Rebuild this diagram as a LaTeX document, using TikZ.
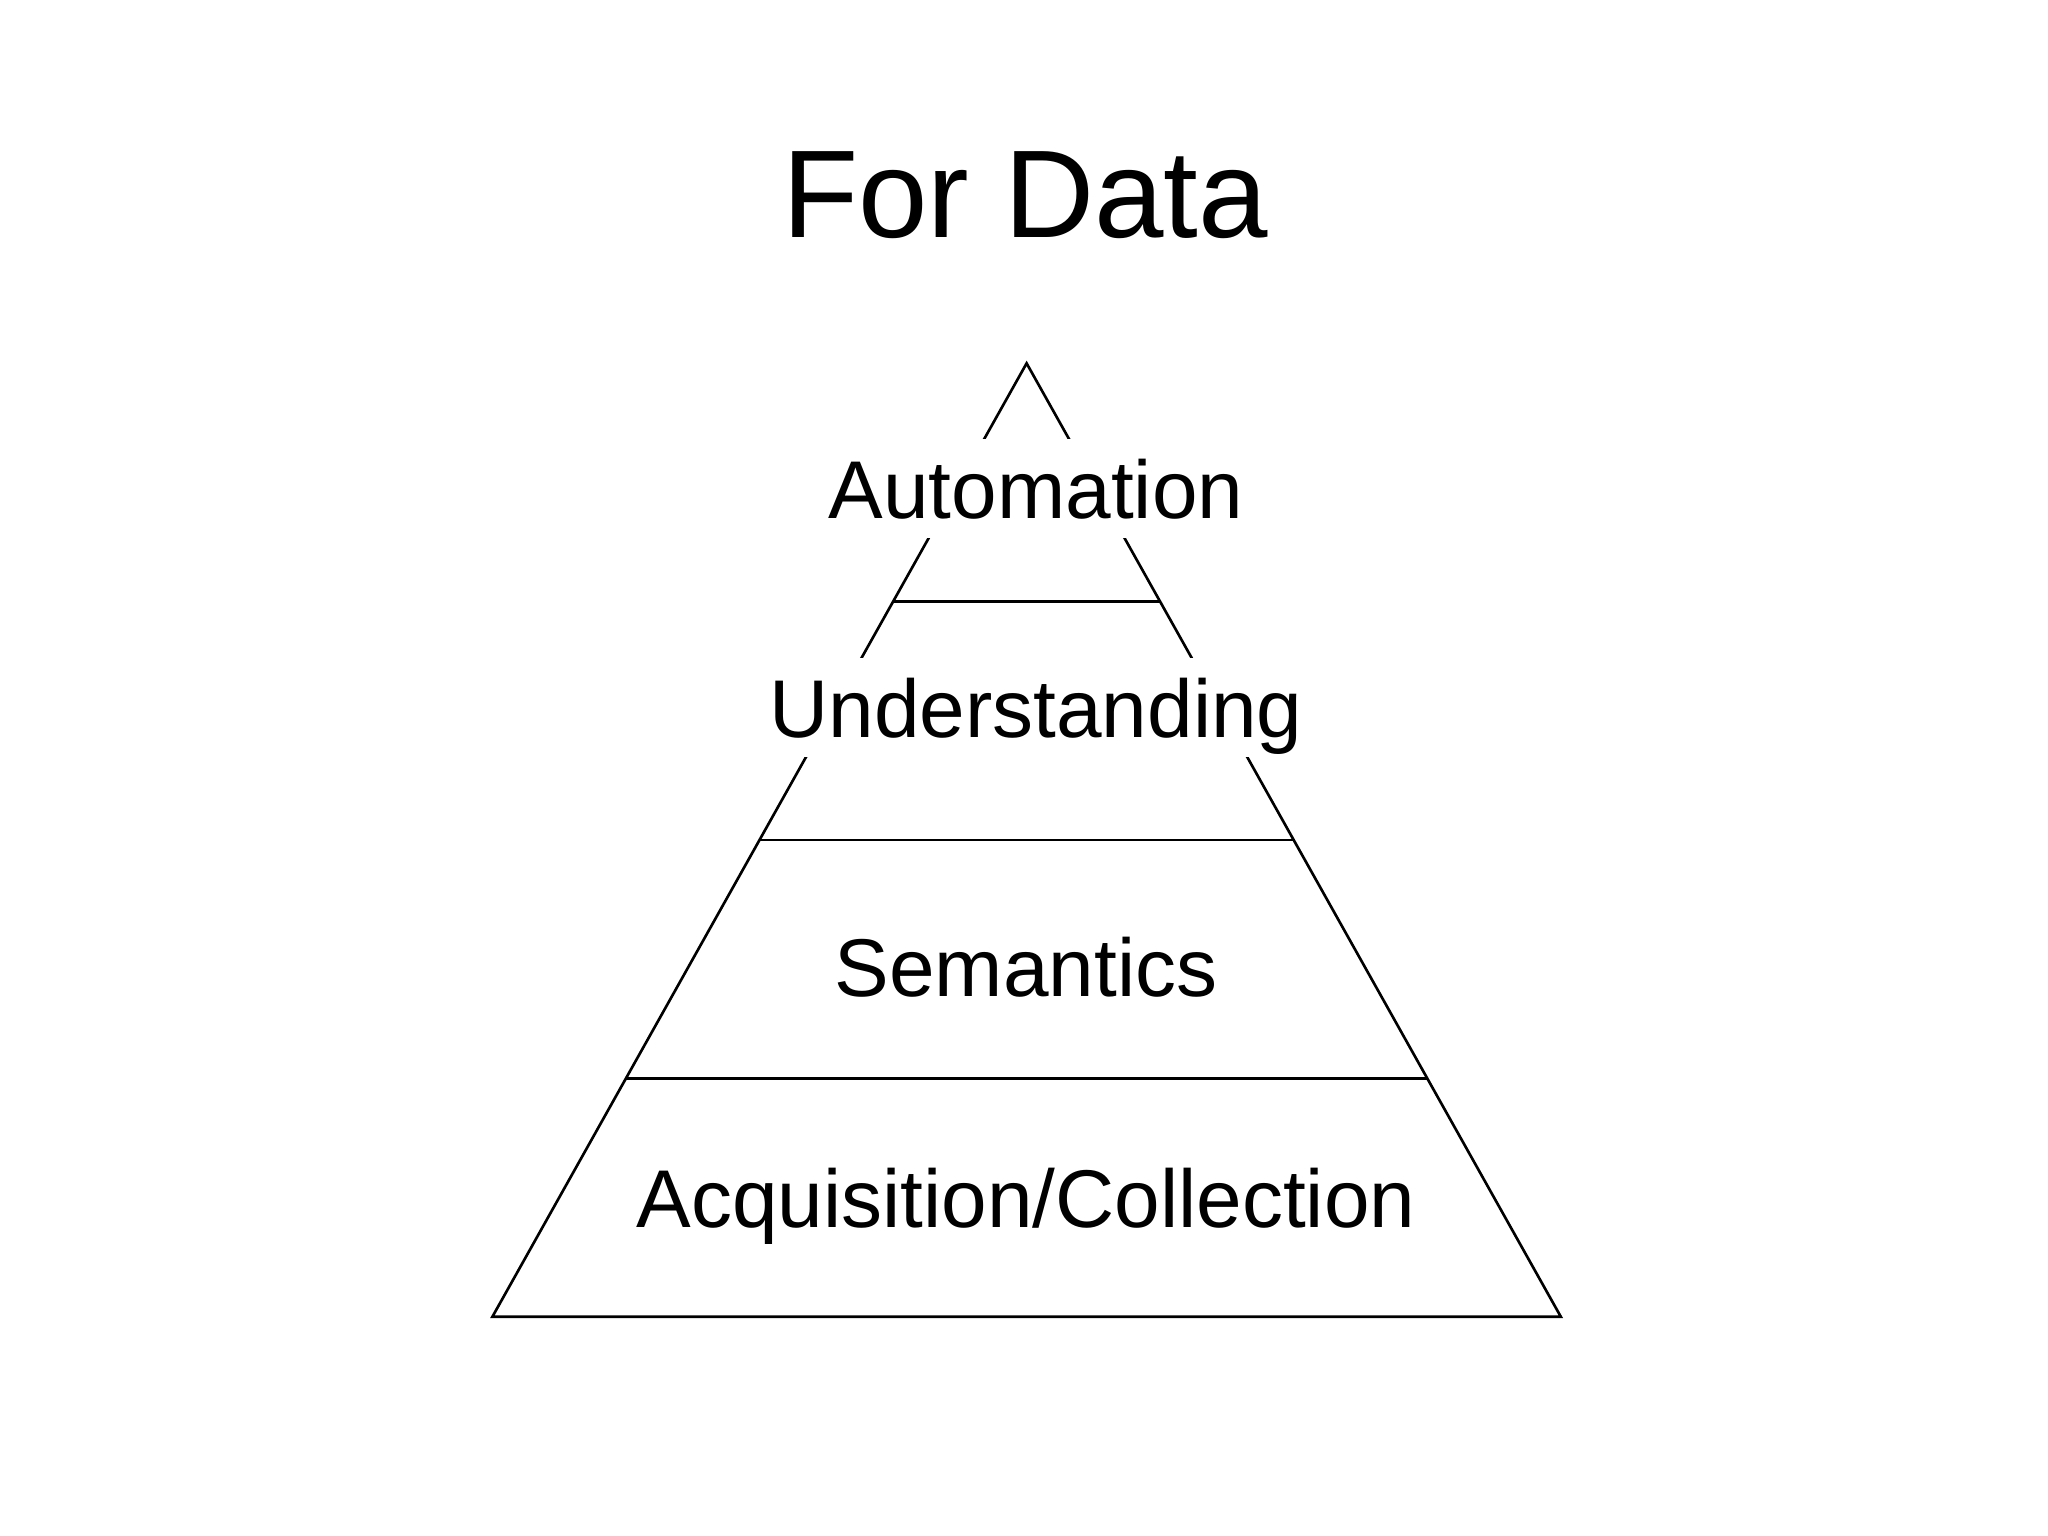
\documentclass[tikz,border=0pt]{standalone}
\usepackage{fontspec}
\setmainfont{Liberation Sans}
\usetikzlibrary{calc}
\begin{document}
\begin{tikzpicture}[x=0.01cm,y=-0.01cm,
  edge/.style={line width=0.75pt,black},
  titletext/.style={font=\fontsize{35.5pt}{40pt}\selectfont,anchor=base,inner sep=0pt},
  layertext/.style={font=\fontsize{23.3pt}{28pt}\selectfont,anchor=base,fill=white,
    inner xsep=4pt,inner ysep=0.2cm,text height=0.59cm,text depth=0cm}]
\useasboundingbox (0,0) rectangle (2048,1536);
\coordinate (apex) at (1026.6,363.3);
\coordinate (bl) at (492.4,1316.7);
\coordinate (br) at (1560.8,1316.7);
\draw[edge] (apex) -- (bl) -- (br) -- cycle;
\draw[edge] ($(apex)!0.25!(bl)$) -- ($(apex)!0.25!(br)$);
\draw[edge] ($(apex)!0.5!(bl)$) -- ($(apex)!0.5!(br)$);
\draw[edge] ($(apex)!0.75!(bl)$) -- ($(apex)!0.75!(br)$);
\node[titletext] (title) at (1025,237.5) {For Data};
\node[layertext] (auto) at (1036,518.3) {Automation};
\node[layertext] (under) at (1036,737.3) {Understanding};
\node[layertext] (sem) at (1026,996.7) {Semantics};
\node[layertext] (acq) at (1026,1227.5) {Acquisition/Collection};
\end{tikzpicture}
\end{document}
